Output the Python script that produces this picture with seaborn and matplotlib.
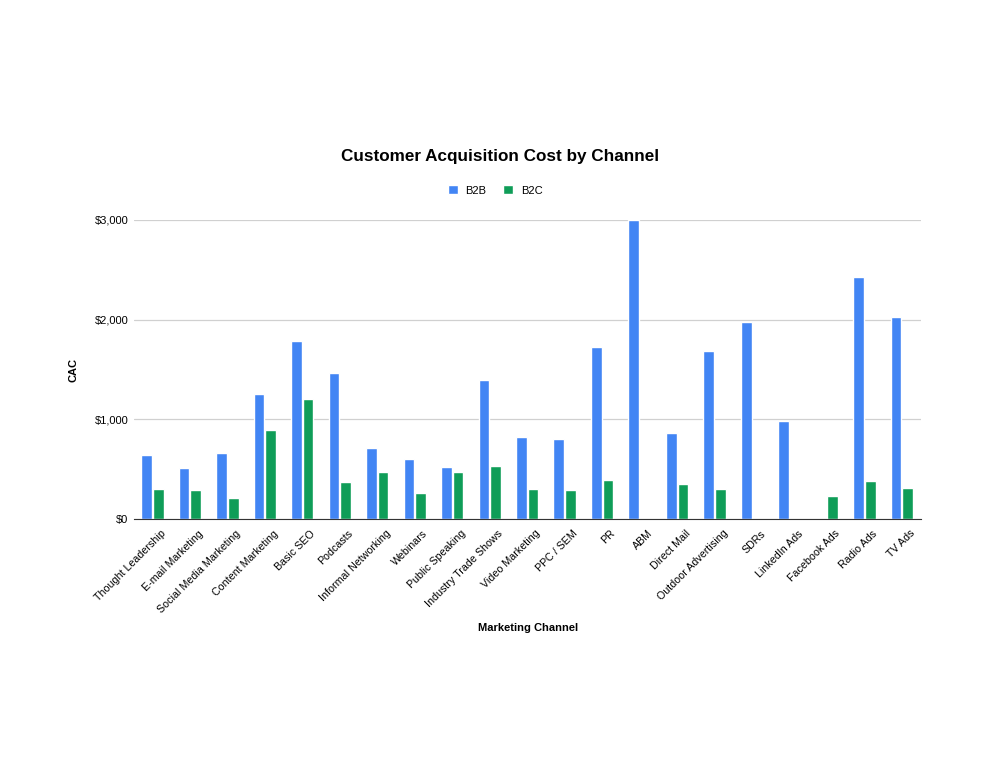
import numpy as np
import pandas as pd
import seaborn as sns
import matplotlib.pyplot as plt
from matplotlib.transforms import ScaledTranslation

# Values (NaN = no bar)
channels = ["Thought Leadership", "E-mail Marketing", "Social Media Marketing",
            "Content Marketing", "Basic SEO", "Podcasts", "Informal Networking",
            "Webinars", "Public Speaking", "Industry Trade Shows", "Video Marketing",
            "PPC / SEM", "PR", "ABM", "Direct Mail", "Outdoor Advertising", "SDRs",
            "LinkedIn Ads", "Facebook Ads", "Radio Ads", "TV Ads"]
b2b = [642, 505, 659, 1254, 1783, 1468, 706, 602, 515, 1391, 819,
       803, 1726, 3000, 863, 1686, 1980, 983, np.nan, 2425, 2023]
b2c = [298, 288, 211, 890, 1201, 368, 472, 254, 472, 532, 298,
       288, 385, np.nan, 351, 298, np.nan, np.nan, 231, 375, 308]
yticks = [0, 1000, 2000, 3000]
ytick_labels = ["$0", "$1,000", "$2,000", "$3,000"]

df = pd.DataFrame({"Channel": channels * 2,
                   "Segment": ["B2B"] * len(channels) + ["B2C"] * len(channels),
                   "CAC": b2b + b2c})

sns.set_style("white")
plt.rcParams["font.family"] = ["Liberation Sans", "DejaVu Sans"]
plt.rcParams["text.color"] = "black"
plt.rcParams["xtick.color"] = "black"
plt.rcParams["ytick.color"] = "black"

fig = plt.figure(figsize=(9.9, 7.8), dpi=100)
ax = fig.add_axes([0.135, 0.335, 0.795, 0.383])

sns.barplot(data=df, x="Channel", y="CAC", hue="Segment", order=channels,
            palette={"B2B": "#4285F4", "B2C": "#0F9D58"}, saturation=1,
            width=0.62, gap=0.08, ax=ax, legend=True)

ax.set_ylim(0, 3000)
ax.set_xlim(-0.5, len(channels) - 0.5)
ax.set_yticks(yticks)
ax.set_yticklabels(ytick_labels, fontsize=8)
ax.yaxis.grid(True, color="#d0d0d0", linewidth=0.9)
ax.set_axisbelow(True)
ax.tick_params(axis="y", length=0, pad=4)
ax.tick_params(axis="x", length=0, pad=7)
shift = ScaledTranslation(0.08, 0, fig.dpi_scale_trans)
for lbl in ax.get_xticklabels():
    lbl.set_rotation(45)
    lbl.set_ha("right")
    lbl.set_rotation_mode("anchor")
    lbl.set_fontsize(7.7)
    lbl.set_transform(lbl.get_transform() + shift)
for s in ["left", "right", "top"]:
    ax.spines[s].set_visible(False)
ax.spines["bottom"].set_color("#333333")
ax.set_xlabel("")
ax.set_ylabel("")

handles, labels = ax.get_legend_handles_labels()
ax.get_legend().remove()
fig.legend(handles, labels, loc="center", bbox_to_anchor=(0.5, 0.756), ncol=2,
           frameon=False, fontsize=8, handlelength=0.9, handleheight=0.9,
           columnspacing=1.5, handletextpad=0.7)

fig.text(0.505, 0.799, "Customer Acquisition Cost by Channel", ha="center",
         va="center", fontsize=12.3, fontweight="bold")
fig.text(0.533, 0.195, "Marketing Channel", ha="center", va="center",
         fontsize=8, fontweight="bold")
fig.text(0.074, 0.526, "CAC", ha="center", va="center", rotation=90,
         fontsize=8, fontweight="bold")

fig.savefig("out.png", dpi=100)
